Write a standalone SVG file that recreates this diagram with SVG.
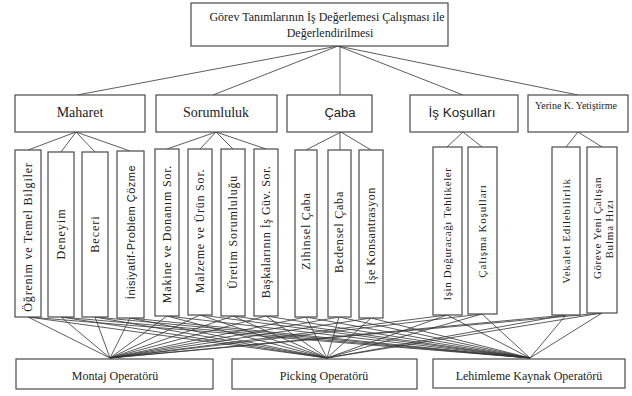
<svg xmlns="http://www.w3.org/2000/svg" width="632" height="396" viewBox="0 0 632 396">
<rect width="632" height="396" fill="#fff"/>
<g id="connectors" stroke="#333" stroke-width="0.8" fill="none">
<line x1="338" y1="46" x2="77" y2="95"/>
<line x1="338" y1="46" x2="213" y2="95"/>
<line x1="340" y1="46" x2="340" y2="95"/>
<line x1="338" y1="46" x2="463" y2="95"/>
<line x1="338" y1="46" x2="578" y2="95"/>
<line x1="76" y1="132" x2="28" y2="150"/>
<line x1="76" y1="132" x2="61" y2="152"/>
<line x1="76" y1="132" x2="95" y2="152"/>
<line x1="76" y1="132" x2="130" y2="151"/>
<line x1="216" y1="132" x2="167" y2="149"/>
<line x1="216" y1="132" x2="200" y2="149"/>
<line x1="216" y1="132" x2="233" y2="149"/>
<line x1="216" y1="132" x2="266" y2="149"/>
<line x1="341" y1="132" x2="306" y2="150"/>
<line x1="340" y1="132" x2="340" y2="150"/>
<line x1="341" y1="132" x2="371" y2="150"/>
<line x1="463" y1="132" x2="447" y2="147"/>
<line x1="463" y1="132" x2="482" y2="147"/>
<line x1="578" y1="132" x2="566" y2="147"/>
<line x1="578" y1="132" x2="602" y2="147"/>
<path d="M28 317L110 358M61 317L110 358M95 317L110 358M130 318L110 358M167 316L110 358M200 315L110 358M233 316L110 358M266 316L110 358M306 317L110 358M339 317L110 358M371 318L110 358M447 315L110 358M482 314L110 358M566 315L110 358M602 313L110 358"/>
<path d="M28 317L327 358M61 317L327 358M95 317L327 358M130 318L327 358M167 316L327 358M200 315L327 358M233 316L327 358M266 316L327 358M306 317L327 358M339 317L327 358M371 318L327 358M447 315L327 358M482 314L327 358M566 315L327 358M602 313L327 358"/>
<path d="M28 317L530 358M61 317L530 358M95 317L530 358M130 318L530 358M167 316L530 358M200 315L530 358M233 316L530 358M266 316L530 358M306 317L530 358M339 317L530 358M371 318L530 358M447 315L530 358M482 314L530 358M566 315L530 358M602 313L530 358"/>
</g>
<g id="nodes" fill="#fff" stroke="#4a4a4a" stroke-width="1.2">
<g id="root">
<rect x="191" y="3" width="257" height="43"/>
</g>
<g id="maharet"><rect x="15" y="95" width="130" height="37"/></g>
<g id="sorumluluk"><rect x="156" y="95" width="121" height="37"/></g>
<g id="caba"><rect x="287" y="95" width="85" height="37"/></g>
<g id="is-kosullari"><rect x="410" y="95" width="108" height="37"/></g>
<g id="yerine"><rect x="528" y="95" width="100" height="37"/></g>
<g id="ogrenim"><rect x="15" y="150" width="26" height="167"/></g>
<g id="deneyim"><rect x="48" y="152" width="26" height="165"/></g>
<g id="beceri"><rect x="82" y="152" width="26" height="165"/></g>
<g id="inisiyatif"><rect x="117" y="151" width="27" height="167"/></g>
<g id="makine"><rect x="155" y="149" width="24" height="167"/></g>
<g id="malzeme"><rect x="188" y="149" width="24" height="166"/></g>
<g id="uretim"><rect x="221" y="149" width="24" height="167"/></g>
<g id="baskalarinin"><rect x="254" y="149" width="24" height="167"/></g>
<g id="zihinsel"><rect x="295" y="150" width="22" height="167"/></g>
<g id="bedensel"><rect x="328" y="150" width="23" height="167"/></g>
<g id="konsantrasyon"><rect x="359" y="150" width="24" height="168"/></g>
<g id="tehlikeler"><rect x="433" y="147" width="29" height="168"/></g>
<g id="calisma"><rect x="468" y="147" width="29" height="167"/></g>
<g id="vekalet"><rect x="552" y="147" width="28" height="168"/></g>
<g id="goreve"><rect x="587" y="147" width="30" height="166"/></g>
<g id="montaj"><rect x="16" y="359" width="197" height="30"/></g>
<g id="picking"><rect x="232" y="359" width="185" height="30"/></g>
<g id="lehimleme"><rect x="433" y="359" width="192" height="29"/></g>
</g>
<g id="labels" font-family="Liberation Serif, serif" fill="#222" text-anchor="middle">
<text font-size="12" x="327" y="21">Görev Tanımlarının İş Değerlemesi Çalışması ile</text>
<text font-size="12" x="330" y="37">Değerlendirilmesi</text>
<text font-size="14" x="80" y="117">Maharet</text>
<text font-size="14" x="216" y="117">Sorumluluk</text>
<text font-family="Liberation Sans, sans-serif" font-size="13" x="340" y="117">Çaba</text>
<text font-family="Liberation Sans, sans-serif" font-size="13.5" x="462" y="117">İş Koşulları</text>
<text font-size="10" x="576" y="109">Yerine K. Yetiştirme</text>
<text font-size="12" transform="translate(32,237) rotate(-90)" letter-spacing="0.8">Öğrenim ve Temel Bilgiler</text>
<text font-size="12" transform="translate(65,234) rotate(-90)" letter-spacing="1">Deneyim</text>
<text font-size="12" transform="translate(99,234) rotate(-90)" letter-spacing="1">Beceri</text>
<text font-family="Liberation Sans, sans-serif" font-size="11" transform="translate(135,232) rotate(-90)" letter-spacing="0.5">İnisiyatif-Problem Çözme</text>
<text font-size="12" transform="translate(171,234) rotate(-90)" letter-spacing="0.8">Makine ve Donanım Sor.</text>
<text font-size="12" transform="translate(204,231) rotate(-90)" letter-spacing="0.8">Malzeme ve Ürün Sor.</text>
<text font-size="12" transform="translate(237,232) rotate(-90)" letter-spacing="0.8">Üretim Sorumluluğu</text>
<text font-size="12" transform="translate(270,232) rotate(-90)" letter-spacing="0.5">Başkalarının İş Güv. Sor.</text>
<text font-size="12" transform="translate(310,231) rotate(-90)" letter-spacing="0.8">Zihinsel Çaba</text>
<text font-size="12" transform="translate(343,232) rotate(-90)" letter-spacing="0.8">Bedensel Çaba</text>
<text font-size="12" transform="translate(375,236) rotate(-90)" letter-spacing="0.5">İşe Konsantrasyon</text>
<text font-size="11" transform="translate(451,234) rotate(-90)" letter-spacing="0.6">Işin Doğuracağı Tehlikeler</text>
<text font-size="11" transform="translate(486,231) rotate(-90)" letter-spacing="0.8">Çalışma Koşulları</text>
<text font-size="11" transform="translate(570,231) rotate(-90)" letter-spacing="0.8">Vekalet Edilebilirlik</text>
<text font-size="11" transform="translate(601,228) rotate(-90)" letter-spacing="0.6">Göreve Yeni Çalışan</text>
<text font-size="11" transform="translate(613,229) rotate(-90)" letter-spacing="0.8">Bulma Hızı</text>
<text font-size="12" x="115" y="380">Montaj Operatörü</text>
<text font-size="12" x="324" y="380">Picking Operatörü</text>
<text font-size="12" x="529" y="380">Lehimleme Kaynak Operatörü</text>
</g>
</svg>
